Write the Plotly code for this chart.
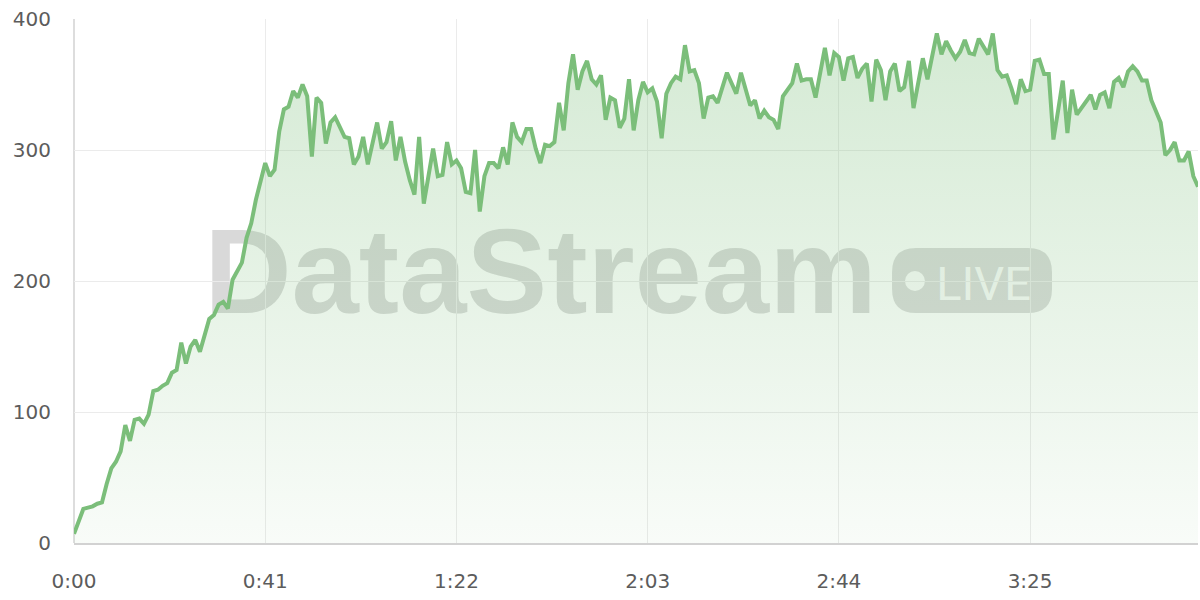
import plotly.graph_objects as go

# ---- data ----
seconds = list(range(0, 242))
values = [
    7, 17, 26, 27, 28, 30, 31, 45, 57, 62,
    70, 90, 78, 94, 95, 91, 98, 116, 117, 120,
    122, 130, 132, 153, 137, 150, 155, 146, 160, 171,
    174, 182, 184, 179, 201, 207, 214, 233, 244, 262,
    277, 290, 280, 285, 314, 331, 333, 345, 340, 350,
    341, 295, 340, 336, 305, 321, 325, 317, 310, 309,
    289, 295, 310, 289, 305, 321, 301, 306, 322, 292,
    310, 291, 277, 266, 310, 259, 280, 301, 280, 281,
    306, 289, 292, 286, 268, 267, 300, 253, 280, 290,
    290, 286, 302, 289, 321, 310, 306, 316, 316, 301,
    290, 304, 303, 306, 336, 315, 351, 373, 346, 360,
    368, 354, 350, 357, 323, 340, 338, 317, 324, 354,
    315, 338, 352, 344, 347, 337, 309, 343, 351, 356,
    354, 380, 360, 361, 351, 324, 340, 341, 336, 348,
    359, 351, 343, 359, 346, 334, 338, 324, 330, 325,
    323, 316, 341, 346, 351, 366, 353, 354, 354, 340,
    358, 378, 357, 374, 371, 353, 370, 371, 355, 362,
    366, 337, 369, 361, 338, 360, 366, 345, 348, 368,
    332, 351, 370, 354, 371, 389, 373, 383, 376, 370,
    375, 384, 374, 373, 385, 379, 373, 389, 361, 356,
    357, 347, 335, 354, 345, 346, 368, 369, 358, 358,
    308, 330, 353, 313, 346, 327, 332, 338, 342, 331,
    342, 344, 332, 352, 355, 348, 360, 364, 360, 353,
    353, 338, 330, 321, 296, 300, 306, 292, 292, 299,
    280, 272,
]
tick_seconds = [0, 41, 82, 123, 164, 205]
tick_labels = ["0:00", "0:41", "1:22", "2:03", "2:44", "3:25"]
y_ticks = [0, 100, 200, 300, 400]

GREEN = "rgb(123,190,122)"

fig = go.Figure()
fig.add_trace(go.Scatter(
    x=seconds, y=values, mode="lines",
    line=dict(color=GREEN, width=4),
    fill="tozeroy",
    fillgradient=dict(
        type="vertical",
        colorscale=[[0, "rgba(123,190,122,0.05)"], [1, "rgba(123,190,122,0.33)"]],
        start=0, stop=400,
    ),
    hoverinfo="skip",
))

# watermark
fig.add_shape(
    type="rect", xref="paper", yref="paper",
    x0=0.10, x1=0.73, y0=0.46, y1=0.62,
    line=dict(width=0), fillcolor="rgba(0,0,0,0)",
    layer="between",
    label=dict(text="<b>DataStream</b>", textposition="middle center",
               font=dict(family="Liberation Sans", size=121,
                         color="rgba(105,105,105,0.25)")),
)
bx0, bx1, by0, by1 = 0.7278, 0.8701, 0.4389, 0.5630
rx, ry = 0.0214, 0.0458
badge_path = (
    f"M {bx0+rx},{by0} L {bx1-rx},{by0} Q {bx1},{by0} {bx1},{by0+ry} "
    f"L {bx1},{by1-ry} Q {bx1},{by1} {bx1-rx},{by1} L {bx0+rx},{by1} "
    f"Q {bx0},{by1} {bx0},{by1-ry} L {bx0},{by0+ry} Q {bx0},{by0} {bx0+rx},{by0} Z"
)
fig.add_shape(
    type="path", xref="paper", yref="paper", path=badge_path,
    line=dict(width=0), fillcolor="rgba(105,105,105,0.24)", layer="between",
    label=dict(text="LIVE", textposition="middle right", padding=18,
               font=dict(family="Roboto", size=47, color="rgba(255,255,255,0.9)")),
)
fig.add_shape(
    type="circle", xref="paper", yref="paper",
    x0=0.7393, x1=0.7571, y0=0.4809, y1=0.5191,
    line=dict(width=0), fillcolor="rgba(255,255,255,0.9)", layer="between",
)

fig.update_layout(
    width=1200, height=600,
    margin=dict(l=74, r=2, t=19, b=57),
    paper_bgcolor="white", plot_bgcolor="white",
    showlegend=False,
    font=dict(family="DejaVu Sans", size=20, color="#5c5c5c"),
    xaxis=dict(
        range=[0, 241], tickvals=tick_seconds, ticktext=tick_labels,
        showgrid=True, gridcolor="#ebebeb", gridwidth=1,
        showline=True, linecolor="#d2d2d2", linewidth=1.5,
        zeroline=False, ticks="", ticklabelstandoff=19, automargin=False,
        ticklabeloverflow="allow",
    ),
    yaxis=dict(
        range=[0, 400], tickvals=y_ticks,
        showgrid=True, gridcolor="#ebebeb", gridwidth=1,
        showline=False, zeroline=False, ticks="", ticklabelstandoff=22,
        automargin=False, ticklabeloverflow="allow",
    ),
)
fig.add_shape(type="line", xref="paper", yref="paper", x0=0, x1=0, y0=0, y1=1,
              line=dict(color="#d2d2d2", width=1.5), layer="below")

# remove the default page margin so the 1200x600 figure fills the window
fig.write_html(
    "out.html",
    config={"displayModeBar": False},
    post_script="document.body.style.margin='0';document.body.style.overflow='hidden';",
)
